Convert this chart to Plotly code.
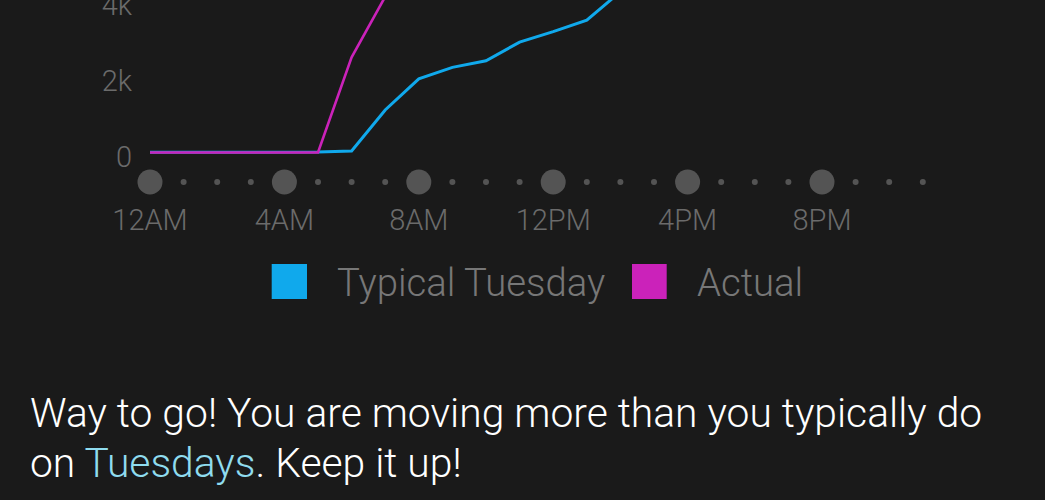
import plotly.graph_objects as go

# ---- data ----
hours = list(range(24))
hour_labels = ["12AM", "4AM", "8AM", "12PM", "4PM", "8PM"]
hour_label_vals = [0, 4, 8, 12, 16, 20]

typical_hours = list(range(0, 16))
typical_steps = [5, 5, 8, 8, 10, 12, 40, 1120, 1940, 2240, 2415, 2905, 3180, 3485, 4230, 4900]

actual_hours = list(range(0, 9))
actual_steps = [0, 0, 2, 3, 3, 3, 2505, 4100, 5200]

ytick_vals = [0, 2000, 4000]
ytick_text = ["0", "2k", "4k"]

legend_names = ["Typical Tuesday", "Actual"]
BLUE = "#10a9ec"
PURPLE = "#cb22ba"
BG = "#1a1a1a"
GREY = "#6b6b6b"
DOT = "#6e6e6e"
FONT = "Roboto"

W, H = 1045, 500
def px(x):
    return x / W
def py(y):
    return 1 - y / H

fig = go.Figure()

# dot row (hour markers)
dot_level = -776
fig.add_trace(go.Scatter(
    x=hours, y=[dot_level] * len(hours), mode="markers",
    marker=dict(size=[25 if h % 4 == 0 else 6 for h in hours], color=DOT, line=dict(width=0)),
    cliponaxis=False, showlegend=False, hoverinfo="skip"))

fig.add_trace(go.Scatter(
    x=typical_hours, y=typical_steps, mode="lines", name=legend_names[0],
    line=dict(color=BLUE, width=3), showlegend=False))
fig.add_trace(go.Scatter(
    x=actual_hours, y=actual_steps, mode="lines", name=legend_names[1],
    line=dict(color=PURPLE, width=2.6), showlegend=False))

# plot area: x 140..985 px, y 0..200 px
x_left_px, x_right_px = 140, 985
hour_px0, hour_step = 150, 33.6
xr = [(x_left_px - hour_px0) / hour_step, (x_right_px - hour_px0) / hour_step]
zero_px, per_unit = 152.5, 76 / 2000
top_px, bot_px = 0, 200
yr = [-(bot_px - zero_px) / per_unit, (zero_px - top_px) / per_unit]

fig.update_layout(
    width=W, height=H,
    margin=dict(l=0, r=0, t=0, b=0),
    paper_bgcolor=BG, plot_bgcolor=BG,
    font=dict(family=FONT, weight=300),
    xaxis=dict(domain=[px(x_left_px), px(x_right_px)], range=xr,
               tickvals=hour_label_vals, ticktext=hour_labels,
               showgrid=False, zeroline=False, showline=False, ticks="",
               tickfont=dict(family=FONT, size=29, color=GREY, weight=300),
               automargin=False, fixedrange=True),
    yaxis=dict(domain=[py(bot_px), py(top_px)], range=yr,
               tickvals=ytick_vals, ticktext=ytick_text,
               showgrid=False, zeroline=False, showline=False, ticks="",
               tickfont=dict(family=FONT, size=29, color=GREY, weight=300),
               ticklabeloverflow="allow", ticklabelstandoff=7, ticklabelshift=4,
               automargin=False, fixedrange=True),
    showlegend=False,
)

# manual legend (squares + labels)
sq = [(271.7, 307.0, BLUE), (632.0, 666.7, PURPLE)]
for x0, x1, c in sq:
    fig.add_shape(type="rect", xref="paper", yref="paper",
                  x0=px(x0), x1=px(x1), y0=py(299), y1=py(264),
                  fillcolor=c, line=dict(width=0))
for name, xl in zip(legend_names, [336.7, 696.7]):
    fig.add_annotation(xref="paper", yref="paper", x=px(xl - 2), y=py(282.5),
                       xanchor="left", yanchor="middle", showarrow=False,
                       text=name, font=dict(family=FONT, size=38.3, color="#777777", weight=300))

# message text
fig.add_annotation(xref="paper", yref="paper", x=px(28), y=py(413),
                   xanchor="left", yanchor="middle", showarrow=False,
                   text="Way to go! You are moving more than you typically do",
                   font=dict(family=FONT, size=40.8, color="#ffffff", weight=300))
fig.add_annotation(xref="paper", yref="paper", x=px(28), y=py(462.5),
                   xanchor="left", yanchor="middle", showarrow=False,
                   text="on <span style='color:#8fdcef'>Tuesdays</span>. Keep it up!",
                   font=dict(family=FONT, size=40.8, color="#ffffff", weight=300))

fig.write_html("out.html")
